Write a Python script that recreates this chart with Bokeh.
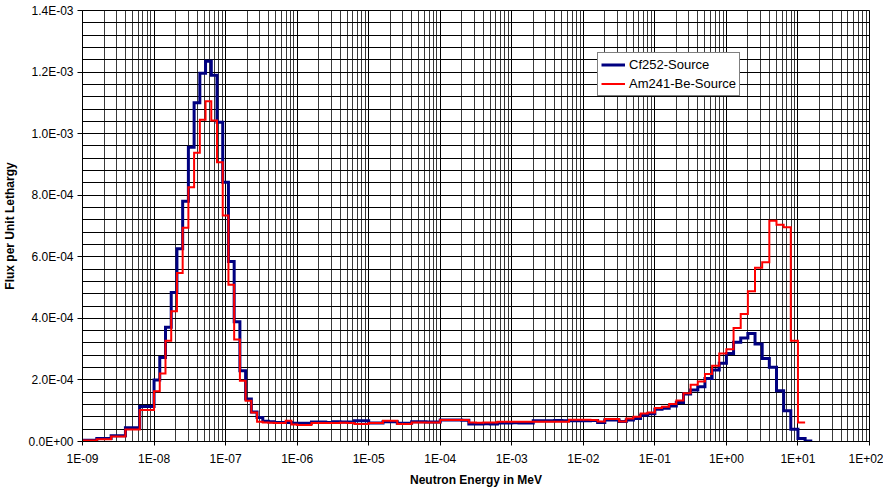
from bokeh.plotting import figure
from bokeh.models import Range1d, FixedTicker, CustomJSTickFormatter
from bokeh.embed import file_html
from bokeh.resources import INLINE

# Energy bin edges (MeV)
energy_edges = [
    1.0e-9, 1.585e-9, 2.512e-9, 3.981e-9, 6.310e-9,
    1.000e-8, 1.202e-8, 1.445e-8, 1.738e-8, 2.089e-8, 2.512e-8, 3.020e-8, 3.631e-8,
    4.365e-8, 5.248e-8, 6.310e-8, 7.586e-8, 9.120e-8, 1.096e-7, 1.318e-7, 1.585e-7,
    1.905e-7, 2.291e-7, 2.754e-7, 3.311e-7, 3.981e-7, 4.786e-7, 5.754e-7, 6.918e-7, 8.318e-7,
    1.0e-6, 1.259e-6, 1.585e-6, 1.995e-6, 2.512e-6, 3.162e-6, 3.981e-6, 5.012e-6, 6.310e-6, 7.943e-6,
    1.0e-5, 1.259e-5, 1.585e-5, 1.995e-5, 2.512e-5, 3.162e-5, 3.981e-5, 5.012e-5, 6.310e-5, 7.943e-5,
    1.0e-4, 1.259e-4, 1.585e-4, 1.995e-4, 2.512e-4, 3.162e-4, 3.981e-4, 5.012e-4, 6.310e-4, 7.943e-4,
    1.0e-3, 1.259e-3, 1.585e-3, 1.995e-3, 2.512e-3, 3.162e-3, 3.981e-3, 5.012e-3, 6.310e-3, 7.943e-3,
    1.0e-2, 1.259e-2, 1.585e-2, 1.995e-2, 2.512e-2, 3.162e-2, 3.981e-2, 5.012e-2, 6.310e-2, 7.943e-2,
    1.0e-1, 1.259e-1, 1.585e-1, 1.995e-1, 2.512e-1, 3.162e-1, 3.981e-1, 5.012e-1, 6.310e-1, 7.943e-1,
    1.0e0, 1.259e0, 1.585e0, 1.995e0, 2.512e0, 3.162e0, 3.981e0, 5.012e0, 6.310e0, 7.943e0,
    1.0e1, 1.259e1, 1.585e1,
]

# Flux per unit lethargy per bin
cf252_flux = [
    4.0e-6, 1.0e-5, 1.85e-5, 4.5e-5, 1.14e-4,
    2.00e-4, 2.73e-4, 3.71e-4, 4.84e-4, 6.26e-4, 7.80e-4, 9.56e-4, 1.100e-3, 1.196e-3,
    1.235e-3, 1.190e-3, 1.037e-3, 8.42e-4, 5.85e-4, 3.89e-4, 2.30e-4, 1.38e-4, 9.6e-5,
    7.8e-5, 6.6e-5, 6.4e-5, 6.2e-5, 6.2e-5, 6.2e-5, 5.9e-5,
    5.9e-5, 5.9e-5, 6.3e-5, 6.3e-5, 6.2e-5, 6.4e-5, 6.3e-5, 6.3e-5, 6.7e-5, 6.7e-5,
    6.0e-5, 6.0e-5, 6.4e-5, 6.4e-5, 5.9e-5, 5.9e-5, 6.4e-5, 6.4e-5, 6.3e-5, 6.3e-5,
    7.0e-5, 7.0e-5, 7.0e-5, 6.9e-5, 5.7e-5, 5.7e-5, 5.8e-5, 5.7e-5, 6.0e-5, 6.0e-5,
    6.1e-5, 6.0e-5, 6.0e-5, 6.7e-5, 6.7e-5, 6.7e-5, 6.8e-5, 6.7e-5, 6.7e-5, 6.7e-5,
    6.7e-5, 6.8e-5, 6.2e-5, 7.0e-5, 7.0e-5, 6.5e-5, 7.0e-5, 7.5e-5, 8.5e-5, 9.0e-5,
    1.05e-4, 1.08e-4, 1.15e-4, 1.27e-4, 1.54e-4, 1.67e-4, 1.78e-4, 2.05e-4, 2.32e-4, 2.54e-4,
    2.86e-4, 3.22e-4, 3.36e-4, 3.51e-4, 3.17e-4, 2.70e-4, 2.41e-4, 1.65e-4, 1.00e-4, 4.0e-5,
    1.0e-5, 2.0e-6,
]

am241be_flux = [
    3.0e-6, 7.0e-6, 1.6e-5, 3.9e-5, 1.02e-4,
    1.63e-4, 2.21e-4, 3.27e-4, 4.23e-4, 5.47e-4, 6.94e-4, 8.26e-4, 9.38e-4, 1.045e-3,
    1.105e-3, 1.043e-3, 9.07e-4, 7.34e-4, 5.09e-4, 3.31e-4, 1.97e-4, 1.32e-4, 9.4e-5,
    6.4e-5, 6.2e-5, 6.1e-5, 6.0e-5, 6.0e-5, 6.7e-5, 5.5e-5,
    5.4e-5, 5.4e-5, 6.0e-5, 6.0e-5, 6.0e-5, 6.0e-5, 6.1e-5, 6.0e-5, 5.7e-5, 5.7e-5,
    6.0e-5, 6.0e-5, 6.7e-5, 6.7e-5, 5.7e-5, 5.7e-5, 6.2e-5, 6.2e-5, 6.2e-5, 6.2e-5,
    7.0e-5, 7.0e-5, 7.0e-5, 7.0e-5, 6.2e-5, 6.1e-5, 6.2e-5, 6.2e-5, 6.4e-5, 6.4e-5,
    6.4e-5, 6.4e-5, 6.4e-5, 6.4e-5, 6.4e-5, 6.4e-5, 6.4e-5, 6.4e-5, 7.1e-5, 7.1e-5,
    7.1e-5, 7.0e-5, 6.5e-5, 7.3e-5, 7.3e-5, 6.5e-5, 7.5e-5, 8.0e-5, 9.1e-5, 9.4e-5,
    1.09e-4, 1.13e-4, 1.22e-4, 1.33e-4, 1.57e-4, 1.84e-4, 1.95e-4, 2.19e-4, 2.46e-4, 2.86e-4,
    3.00e-4, 3.69e-4, 4.14e-4, 4.88e-4, 5.64e-4, 5.82e-4, 7.17e-4, 7.04e-4, 6.96e-4, 3.27e-4,
    6.2e-5,
]

x_tick_values = [1e-9, 1e-8, 1e-7, 1e-6, 1e-5, 1e-4, 1e-3, 1e-2, 1e-1, 1e0, 1e1, 1e2]
x_tick_labels = ["1E-09", "1E-08", "1E-07", "1E-06", "1E-05", "1E-04", "1E-03",
                 "1E-02", "1E-01", "1E+00", "1E+01", "1E+02"]
y_tick_values = [0.0, 2e-4, 4e-4, 6e-4, 8e-4, 1.0e-3, 1.2e-3, 1.4e-3]
y_tick_labels = ["0.0E+00", "2.0E-04", "4.0E-04", "6.0E-04", "8.0E-04",
                 "1.0E-03", "1.2E-03", "1.4E-03"]

FONT = "Liberation Sans"

p = figure(x_axis_type="log", x_range=Range1d(1e-9, 1e2), y_range=Range1d(0, 1.4e-3),
           title=None,
           frame_width=787, frame_height=431,
           min_border_left=75, min_border_right=14, min_border_top=10, min_border_bottom=36,
           output_backend="svg", toolbar_location=None,
           background_fill_color="white", border_fill_color="white")

x_minor = [m * d for d in x_tick_values[:-1] for m in range(2, 10)]
y_minor = [i * 4e-5 for i in range(36)]

p.xaxis.ticker = FixedTicker(ticks=x_tick_values, minor_ticks=x_minor)
p.yaxis.ticker = FixedTicker(ticks=y_tick_values, minor_ticks=y_minor)

p.xaxis.formatter = CustomJSTickFormatter(args=dict(tv=x_tick_values, lb=x_tick_labels), code="""
let best = 0, bd = Infinity;
for (let i = 0; i < tv.length; i++) {
  const d = Math.abs(Math.log10(tv[i]) - Math.log10(tick));
  if (d < bd) { bd = d; best = i; }
}
return lb[best];
""")
p.yaxis.formatter = CustomJSTickFormatter(args=dict(tv=y_tick_values, lb=y_tick_labels), code="""
let best = 0, bd = Infinity;
for (let i = 0; i < tv.length; i++) {
  const d = Math.abs(tv[i] - tick);
  if (d < bd) { bd = d; best = i; }
}
return lb[best];
""")

for ax in (p.xaxis, p.yaxis):
    ax.axis_line_color = "black"
    ax.major_tick_line_color = "black"
    ax.minor_tick_line_color = None
    ax.major_tick_in = 0
    ax.major_label_text_font = FONT
    ax.major_label_text_font_size = "12px"
    ax.major_label_text_color = "black"
    ax.axis_label_text_font = FONT
    ax.axis_label_text_font_size = "12px"
    ax.axis_label_text_font_style = "bold"
    ax.axis_label_text_color = "black"

p.xaxis.major_tick_out = 4
p.xaxis.major_label_standoff = 6
p.yaxis.major_tick_out = 5
p.yaxis.major_label_standoff = 4
p.xaxis.axis_label = "Neutron Energy in MeV"
p.yaxis.axis_label = "Flux per Unit Lethargy"
p.xaxis.axis_label_standoff = 4
p.yaxis.axis_label_standoff = 8

p.xgrid.grid_line_color = "black"
p.xgrid.minor_grid_line_color = "#3a3a3a"
p.ygrid.grid_line_color = "black"
p.ygrid.minor_grid_line_color = "black"
p.outline_line_color = "black"

p.step(x=energy_edges, y=cf252_flux + [cf252_flux[-1]], mode="after",
       line_color="#000080", line_width=3, line_join="miter", legend_label="Cf252-Source")
p.step(x=energy_edges[:len(am241be_flux) + 1], y=am241be_flux + [am241be_flux[-1]], mode="after",
       line_color="#FF0000", line_width=2, line_join="miter", legend_label="Am241-Be-Source")

lg = p.legend[0]
lg.location = (515, 345)
lg.label_text_font = FONT
lg.label_text_font_size = "13px"
lg.label_text_color = "black"
lg.border_line_color = "black"
lg.border_line_width = 1
lg.background_fill_color = "white"
lg.background_fill_alpha = 1.0
lg.glyph_width = 24
lg.glyph_height = 17
lg.label_height = 17
lg.label_standoff = 4
lg.spacing = 2
lg.padding = 3
lg.margin = 0

open("out.html", "w").write(file_html(p, INLINE))
